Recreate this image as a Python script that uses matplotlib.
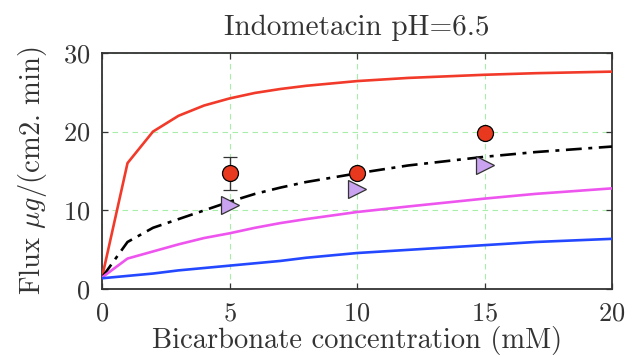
import matplotlib
matplotlib.use("Agg")
import matplotlib.pyplot as plt

plt.rcParams['font.family'] = 'serif'
plt.rcParams['font.serif'] = ['cmr10', 'DejaVu Serif']
plt.rcParams['mathtext.fontset'] = 'cm'
plt.rcParams['axes.formatter.use_mathtext'] = True

# model curves
x_model = [0, 1, 2, 3, 4, 5, 6, 7, 8, 10, 12, 15, 17, 20]
red_curve = [1.5, 16.0, 20.0, 22.0, 23.3, 24.2, 24.9, 25.4, 25.8, 26.4, 26.8, 27.2, 27.4, 27.6]
black_curve = [1.5, 6.0, 7.8, 8.9, 10.0, 11.1, 12.1, 12.9, 13.6, 14.7, 15.7, 16.8, 17.4, 18.1]
magenta_curve = [1.5, 3.9, 4.8, 5.7, 6.5, 7.1, 7.8, 8.4, 8.9, 9.8, 10.5, 11.5, 12.1, 12.8]
blue_curve = [1.4, 1.7, 2.0, 2.4, 2.7, 3.0, 3.3, 3.6, 4.0, 4.6, 5.0, 5.6, 6.0, 6.4]

# experimental points
x_exp = [5, 10, 15]
circle_y = [14.7, 14.7, 19.8]
circle_err = [2.1, 0.3, 0.3]
triangle_y = [10.7, 12.7, 15.7]

xticks = [0, 5, 10, 15, 20]
yticks = [0, 10, 20, 30]

fig = plt.figure(figsize=(6.32, 3.57), dpi=100)
ax = fig.add_axes([0.1614, 0.1896, 0.8070, 0.6628])

lw = 1.9
ax.plot(x_model, red_curve, color='#f23a2a', lw=lw, zorder=3)
ax.plot(x_model, black_curve, color='black', lw=lw, ls=(0, (6, 2.5, 1.5, 2.5)), zorder=3)
ax.plot(x_model, magenta_curve, color='#ee55ee', lw=lw, zorder=3)
ax.plot(x_model, blue_curve, color='#2448ff', lw=lw, zorder=3)

ax.errorbar(x_exp, circle_y, yerr=circle_err, fmt='o', color='#e8381e', mec='black',
            mew=0.9, ms=11.5, ecolor='#333333', elinewidth=1.0, capsize=5, capthick=1.0, zorder=4)
ax.plot(x_exp, triangle_y, ls='none', marker='>', ms=13.5, mfc='#c9a3ef', mec='#333333',
        mew=0.9, zorder=5)

ax.set_xlim(0, 20)
ax.set_ylim(0, 30)
ax.set_xticks(xticks)
ax.set_yticks(yticks)
ax.grid(True, color='#a8eea8', ls=(0, (5, 4)), lw=0.8)
ax.tick_params(direction='in', top=True, right=True, length=4, width=0.9,
               labelsize=19, colors='#333333', labelcolor='#333333')
ax.tick_params(axis='x', pad=9)
ax.tick_params(axis='y', pad=8.5)
for s in ax.spines.values():
    s.set_linewidth(1.3)
    s.set_color('#333333')

ax.set_title('Indometacin pH=6.5', fontsize=21, color='#333333', pad=13)
ax.set_xlabel('Bicarbonate concentration (mM)', fontsize=20.5, color='#333333', labelpad=0)
ax.set_ylabel(r'Flux $\mu g$/(cm2. min)', fontsize=20.5, color='#333333', labelpad=10)

fig.savefig('out.png', dpi=100)
